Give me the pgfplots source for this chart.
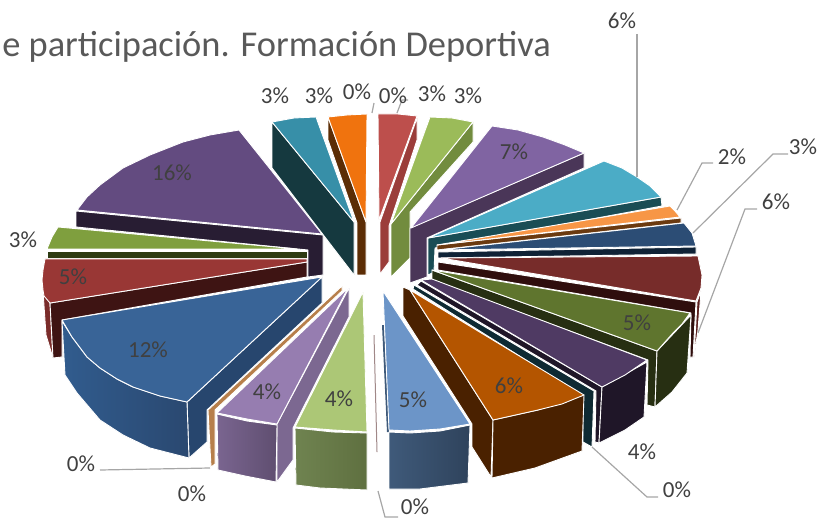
\documentclass[border=0pt]{standalone}
\usepackage{pgfplots}
\pgfplotsset{compat=1.18}
\usepackage{fontspec}
\setmainfont{Carlito}
\definecolor{tt}{HTML}{595959}
\definecolor{lb}{HTML}{404040}
\definecolor{ld}{HTML}{A6A6A6}
\definecolor{pu16}{HTML}{634B80}\definecolor{pu16s}{HTML}{281D33}
\definecolor{ol}{HTML}{7F9F3E}\definecolor{ols}{HTML}{2D3A12}
\definecolor{dr5}{HTML}{993735}\definecolor{dr5s}{HTML}{3E1413}\definecolor{dr5o}{HTML}{7A2C2A}
\definecolor{te3}{HTML}{378FA8}\definecolor{te3s}{HTML}{15393F}
\definecolor{or3}{HTML}{F0730E}\definecolor{or3s}{HTML}{5C2D05}
\definecolor{re}{HTML}{BD4F4C}\definecolor{res}{HTML}{9B3D3A}
\definecolor{gr3}{HTML}{9BBB59}\definecolor{gr3s}{HTML}{728C3E}
\definecolor{pu7}{HTML}{8064A2}\definecolor{pu7s}{HTML}{4A3658}
\definecolor{te6}{HTML}{4BACC6}\definecolor{te6s}{HTML}{1A4D55}
\definecolor{or2}{HTML}{F79646}\definecolor{or2s}{HTML}{6B3A10}
\definecolor{na}{HTML}{2C4D75}\definecolor{nas}{HTML}{0F2236}
\definecolor{dr6}{HTML}{772C2A}\definecolor{dr6s}{HTML}{2F0E0D}\definecolor{dr6o}{HTML}{5A1F1E}
\definecolor{gn5}{HTML}{5F752E}\definecolor{gn5s}{HTML}{272F12}
\definecolor{pu4}{HTML}{4F3A63}\definecolor{pu4s}{HTML}{1F1628}
\definecolor{te0}{HTML}{0E2A33}
\definecolor{br6}{HTML}{B45500}\definecolor{br6s}{HTML}{4A2100}
\definecolor{bl5}{HTML}{6C95C8}\definecolor{bl5a}{HTML}{3F5A7A}\definecolor{bl5b}{HTML}{2F435C}
\definecolor{th}{HTML}{A08888}
\definecolor{gl4}{HTML}{ACC776}\definecolor{gl4a}{HTML}{6F8350}\definecolor{gl4b}{HTML}{5F7040}
\definecolor{lp4}{HTML}{967DB0}\definecolor{lp4a}{HTML}{7A6590}\definecolor{lp4b}{HTML}{5F4E70}\definecolor{lp4s}{HTML}{7C6891}
\definecolor{tn}{HTML}{B77F4B}
\definecolor{b12}{HTML}{396497}\definecolor{b12a}{HTML}{315C8E}\definecolor{b12b}{HTML}{2A4870}\definecolor{b12s}{HTML}{27466E}
\newcommand\pp[2]{\addplot[fill=#1,draw=white,line width=0.9pt,line join=round,forget plot] coordinates {#2} --cycle;}
\newcommand\ps[3]{\addplot[left color=#1,right color=#2,draw=white,line width=0.9pt,line join=round,forget plot] coordinates {#3} --cycle;}
\newcommand\lead[1]{\addplot[color=ld,line width=1.2pt,forget plot] coordinates {#1};}
\newcommand\lab[2]{\node[inner sep=0pt,font=\fontsize{23}{25}\selectfont,text=lb] at (axis cs:#1) {#2};}
\begin{document}
\begin{tikzpicture}[x=1pt,y=1pt]
\useasboundingbox (0,0) rectangle (818pt,518pt);
\begin{axis}[at={(0pt,0pt)},anchor=south west,width=818pt,height=518pt,scale only axis,
 xmin=0,xmax=818,ymin=0,ymax=518,y dir=reverse,hide axis,clip=false]
% purple 16 %
\pp{pu16s}{(76,211) (323,235) (323,275) (308,277) (308,250) (76,227)}
\pp{pu16}{(322,234) (77,210) (87,197) (100,185) (123,168) (150,155) (183,142) (210,135) (239,130)}
% olive 3 %
\pp{ols}{(47,251) (307,251) (307,258) (47,258)}
\pp{ol}{(58,227) (52,237) (47,249) (297,249)}
% dark red 5 %
\pp{dr5o}{(43,291) (50,303) (53,358) (46,335)}
\pp{dr5s}{(307,262) (50,303) (53,358) (62,357) (62,320) (307,277)}
\pp{dr5}{(45,259) (307,259) (307,262) (50,303) (44,296) (43,290) (42,280) (43,270)}
% teal 3 %
\pp{te3s}{(272,122) (354,222) (354,275) (272,168)}
\pp{te3}{(354,222) (272,122) (294,118) (316,117)}
% orange 3 %
\pp{or3s}{(328,117) (366,222) (366,275) (357,275) (357,223) (328,140)}
\pp{or3}{(366,222) (328,117) (347,115) (367,114)}
% red %
\pp{res}{(417,118) (380,222) (380,274) (389,262) (389,226) (417,140)}
\pp{re}{(379,220) (378,114) (398,114) (417,116)}
% green 3 %
\pp{gr3s}{(473,122) (391,224) (391,277) (410,258) (410,212) (473,142)}
\pp{gr3}{(391,224) (430,117) (452,118) (473,122)}
% purple 7 %
\pp{pu7s}{(584,153) (410,228) (410,283) (427,277) (427,238) (584,168)}
\pp{pu7}{(411,228) (492,126) (518,130) (543,137) (565,145) (584,153)}
% teal 6 %
\pp{te6s}{(661,197) (428,238) (428,275) (434,272) (435,248) (662,206)}
\pp{te6}{(428,238) (604,161) (622,168) (637,177) (650,186) (661,197)}
% orange 2 %
\pp{or2s}{(681,218) (437,245) (437,250) (681,223)}
\pp{or2}{(437,245) (670,206) (675,211) (680,217)}
% navy 3 %
\pp{nas}{(696,247) (438,252) (438,258) (696,254)}
\pp{na}{(440,250) (684,223) (692,233) (696,246)}
% dark red 6 %
\pp{dr6o}{(701,291) (697,302) (694,357) (698,330)}
\pp{dr6s}{(438,262) (696,302) (693,357) (690,357) (691,313) (438,270)}
\pp{dr6}{(441,258) (698,256) (702,275) (701,288) (696,301)}
% green 5 %
\pp{gn5s}{(657,351) (432,270) (432,280) (648,360) (647,405) (655,407)}
\pp{gn5s}{(691,315) (657,351) (655,407) (672,392) (687,373)}
\pp{gn5}{(432,270) (690,313) (682,324) (673,333) (657,351)}
% purple 4 %
\pp{pu4s}{(421,281) (602,387) (599,443) (595,442) (596,391) (417,285)}
\pp{pu4s}{(647,362) (602,387) (599,443) (625,430) (644,417)}
\pp{pu4}{(421,280) (432,279) (647,360) (625,375) (602,387)}
% teal 0 %
\pp{te0}{(414,285) (594,391) (592,447) (583,442) (583,396) (413,289)}
% brown 6 %
\pp{br6s}{(403,287) (410,290) (493,420) (491,477) (472,447) (472,424) (403,316)}
\pp{br6s}{(493,420) (538,410) (584,395) (582,451) (535,468) (492,478)}
\pp{br6}{(410,290) (584,395) (562,404) (538,410) (493,420)}
% blue 5 %
\addplot[fill=bl5a,draw=none,forget plot] coordinates {(382,325) (384,325) (389,432) (387,432)} --cycle;
\ps{bl5a}{bl5b}{(389,432) (410,433) (440,431) (470,425) (468,483) (420,489) (389,489)}
\pp{bl5}{(383,291) (389,430) (410,431) (440,429) (470,424)}
% thin 0 %
\addplot[fill=th,draw=none,forget plot] coordinates {(373.5,335) (374.5,335) (377.5,452) (376.5,452)} --cycle;
% green 4 %
\ps{gl4a}{gl4b}{(295,428) (333,432) (367,433) (367,490) (320,488) (296,485)}
\pp{gl4}{(363,292) (295,427) (333,430) (367,432)}
% light purple 4 %
\pp{lp4s}{(349,288) (277,424) (277,482) (293,460) (293,428) (349,317)}
\ps{lp4a}{lp4b}{(217,414) (247,421) (277,425) (276,482) (245,476) (218,470)}
\pp{lp4}{(348,288) (217,413) (247,419) (277,424)}
% tan 0 %
\pp{tn}{(342,286) (208,410) (211,467) (215,464) (215,410) (342,291)}
% blue 12 %
\pp{b12s}{(322,277) (187,402) (189,458) (207,442) (207,410) (322,303)}
\ps{b12a}{b12b}{(62,321) (72,337) (87,357) (100,368) (117,379) (133,387) (160,396) (187,402) (189,458) (150,448) (123,435) (100,420) (77,393) (65,375)}
\pp{b12}{(322,277) (62,320) (72,337) (87,357) (100,368) (117,379) (133,387) (160,396) (187,402)}
% leaders
\lead{(637,34) (637,177)}
\lead{(713,163) (702,163) (677,210)}
\lead{(788,154) (773,154) (693,233)}
\lead{(757,209) (745,209) (698,333)}
\lead{(592,447) (647,497) (658,497)}
\lead{(378,491) (385,517) (398,517)}
\lead{(100,470) (210,468)}
\lead{(372,113) (374,103)}
\lead{(397,113) (402,100) (408,100)}
% labels
\lab{275,96}{3\%}\lab{319,96}{3\%}\lab{357,92}{0\%}\lab{393,96}{0\%}
\lab{432,94}{3\%}\lab{468,96}{3\%}\lab{622,21}{6\%}\lab{514,152}{7\%}
\lab{732,157}{2\%}\lab{803,147}{3\%}\lab{776,202}{6\%}\lab{172,173}{16\%}
\lab{23,240}{3\%}\lab{73,277}{5\%}\lab{148,350}{12\%}\lab{267,392}{4\%}
\lab{339,399}{4\%}\lab{413,400}{5\%}\lab{509,386}{6\%}\lab{642,452}{4\%}
\lab{637,323}{5\%}\lab{677,490}{0\%}\lab{192,494}{0\%}\lab{415,507}{0\%}\lab{81,464}{0\%}
\node[anchor=base east,inner sep=0pt,font=\fontsize{36.4}{40}\selectfont,text=tt] at (axis cs:551,57) {e participación. Formación Deportiva};
\end{axis}
\end{tikzpicture}
\end{document}
